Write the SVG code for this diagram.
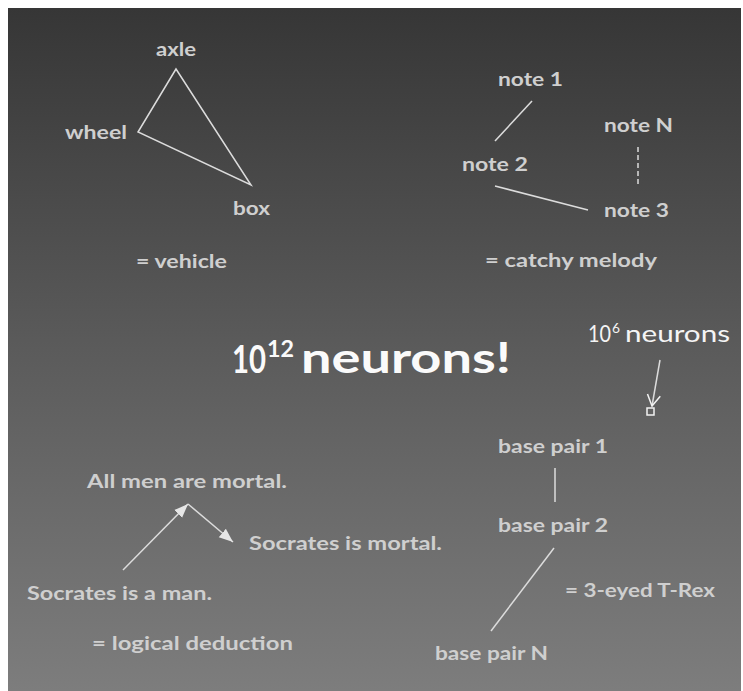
<svg xmlns="http://www.w3.org/2000/svg" width="743" height="691" viewBox="0 0 743 691">
<defs>
<linearGradient id="bg" x1="0" y1="0" x2="0" y2="1">
<stop offset="0" stop-color="#363636"/>
<stop offset="0.5" stop-color="#5b5b5b"/>
<stop offset="1" stop-color="#7d7d7d"/>
</linearGradient>
<marker id="fill" markerUnits="userSpaceOnUse" markerWidth="16" markerHeight="12" refX="14" refY="6" orient="auto">
<path d="M0,0.5 L14,6 L0,11.5 Z" fill="#e6e6e6"/>
</marker>
<marker id="open" markerUnits="userSpaceOnUse" markerWidth="16" markerHeight="16" refX="13" refY="8" orient="auto">
<path d="M2,1.5 L13,8 L2,14.5" fill="none" stroke="#f2f2f2" stroke-width="1.5"/>
</marker>
<style>
.lbl{font-family:Lato,"Open Sans","Liberation Sans",sans-serif;font-weight:bold;font-size:18px;fill:#cfcfcf}
.big{font-family:Lato,"Open Sans","Liberation Sans",sans-serif;font-weight:bold;fill:#fafafa}
.reg{font-family:Lato,"Open Sans","Liberation Sans",sans-serif;font-weight:normal;fill:#f4f4f4}
.ln{stroke:#dcdcdc;stroke-width:1.5;fill:none}
</style>
</defs>
<rect x="0" y="0" width="743" height="691" fill="#ffffff"/>
<rect x="8" y="8" width="733" height="683" fill="url(#bg)"/>

<g id="connectors">
<polygon class="ln" points="176,69 138,132 251,185"/>
<line class="ln" x1="532" y1="101" x2="495" y2="141"/>
<line class="ln" x1="495" y1="186" x2="588" y2="210"/>
<line class="ln" x1="638" y1="147" x2="638" y2="186" stroke-dasharray="5,3"/>
<line class="ln" x1="660" y1="360" x2="652" y2="406" marker-end="url(#open)" stroke="#f2f2f2"/>
<rect x="647" y="408" width="7" height="7" fill="none" stroke="#f2f2f2" stroke-width="1.5"/>
<line class="ln" x1="123" y1="570" x2="188" y2="504" marker-end="url(#fill)"/>
<line class="ln" x1="188" y1="504" x2="233" y2="542" marker-end="url(#fill)"/>
<line class="ln" x1="555" y1="468" x2="555" y2="502"/>
<line class="ln" x1="554" y1="548" x2="491" y2="631"/>
</g>

<g id="axle"><text class="lbl" x="156" y="56" textLength="40" lengthAdjust="spacingAndGlyphs">axle</text></g>
<g id="wheel"><text class="lbl" x="65" y="139" textLength="62" lengthAdjust="spacingAndGlyphs">wheel</text></g>
<g id="box"><text class="lbl" x="233" y="215" textLength="37" lengthAdjust="spacingAndGlyphs">box</text></g>
<g id="vehicle"><text class="lbl" x="136" y="268" textLength="91" lengthAdjust="spacingAndGlyphs">= vehicle</text></g>

<g id="note1"><text class="lbl" x="498" y="86" textLength="65" lengthAdjust="spacingAndGlyphs">note 1</text></g>
<g id="noteN"><text class="lbl" x="604" y="132" textLength="69" lengthAdjust="spacingAndGlyphs">note N</text></g>
<g id="note2"><text class="lbl" x="462" y="171" textLength="66" lengthAdjust="spacingAndGlyphs">note 2</text></g>
<g id="note3"><text class="lbl" x="604" y="217" textLength="65" lengthAdjust="spacingAndGlyphs">note 3</text></g>
<g id="melody"><text class="lbl" x="485" y="267" textLength="172" lengthAdjust="spacingAndGlyphs">= catchy melody</text></g>

<g id="title">
<text class="big" y="373"><tspan x="232" font-size="38" textLength="34" lengthAdjust="spacingAndGlyphs">10</tspan><tspan x="267" y="357" font-size="23" textLength="27" lengthAdjust="spacingAndGlyphs">12</tspan><tspan x="301" y="373" font-size="42" textLength="210" lengthAdjust="spacingAndGlyphs">neurons!</tspan></text>
</g>

<g id="million">
<text class="reg" y="342"><tspan x="588" font-size="23" textLength="23" lengthAdjust="spacingAndGlyphs">10</tspan><tspan x="612" y="333" font-size="13" textLength="8" lengthAdjust="spacingAndGlyphs">6</tspan><tspan x="625" y="342" font-size="23" textLength="105" lengthAdjust="spacingAndGlyphs">neurons</tspan></text>
</g>

<g id="allmen"><text class="lbl" x="87" y="488" textLength="200" lengthAdjust="spacingAndGlyphs">All men are mortal.</text></g>
<g id="socmortal"><text class="lbl" x="249" y="550" textLength="193" lengthAdjust="spacingAndGlyphs">Socrates is mortal.</text></g>
<g id="socman"><text class="lbl" x="27" y="600" textLength="185" lengthAdjust="spacingAndGlyphs">Socrates is a man.</text></g>
<g id="deduction"><text class="lbl" x="92" y="650" textLength="201" lengthAdjust="spacingAndGlyphs">= logical deduction</text></g>

<g id="bp1"><text class="lbl" x="498" y="453" textLength="110" lengthAdjust="spacingAndGlyphs">base pair 1</text></g>
<g id="bp2"><text class="lbl" x="498" y="532" textLength="110" lengthAdjust="spacingAndGlyphs">base pair 2</text></g>
<g id="trex"><text class="lbl" x="565" y="597" textLength="150" lengthAdjust="spacingAndGlyphs">= 3-eyed T-Rex</text></g>
<g id="bpN"><text class="lbl" x="435" y="660" textLength="113" lengthAdjust="spacingAndGlyphs">base pair N</text></g>
</svg>
